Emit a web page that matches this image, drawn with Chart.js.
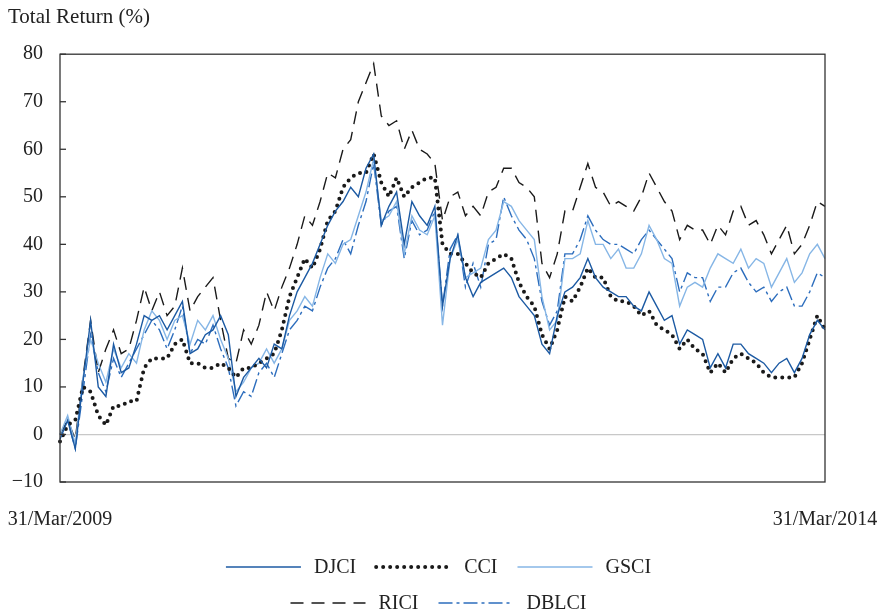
<!DOCTYPE html>
<html>
<head>
<meta charset="utf-8">
<title>Total Return (%)</title>
<script src="https://cdn.jsdelivr.net/npm/chart.js@4.4.1/dist/chart.umd.min.js"></script>
<style>
  html, body { margin: 0; padding: 0; background: #fff; }
</style>
</head>
<body>
<canvas id="myChart" width="895" height="615"></canvas>
<script>
// Tick labels for the time axis (first and last week)
var tickLabels = ['31/Mar/2009', '31/Mar/2014'];

// Total return (%) per index, roughly every 2.6 weeks
var djci = [
    -1, 3, -3, 11, 24, 10, 8, 19, 13, 14,
    19, 25, 24, 25, 22, 25, 28, 17, 18, 21,
    22, 25, 21, 8, 12, 14, 16, 14, 19, 18,
    25, 30, 33, 36, 40, 44, 47, 49, 52, 50,
    56, 59, 44, 48, 51, 40, 49, 46, 44, 48,
    27, 37, 42, 33, 29, 32, 33, 34, 35, 33,
    29, 27, 25, 19, 17, 25, 30, 31, 33, 37,
    33, 31, 30, 29, 29, 27, 26, 30, 27, 24,
    25, 19, 22, 21, 20, 14, 17, 14, 19, 19,
    17, 16, 15, 13, 15, 16, 13, 16, 21, 24, 22
];
var cci = [
    -1.5, 2, 3, 10, 9, 4, 2, 6, 6, 7,
    7, 14, 16, 16, 16, 19, 20, 15, 15, 14,
    14, 15, 14, 12, 14, 14, 15, 16, 17, 22,
    29, 33, 37, 35, 39, 45, 47, 52, 54, 55,
    55, 59, 53, 50, 54, 50, 52, 53, 54, 54,
    40, 38, 38, 36, 34, 33, 36, 37, 38, 37,
    32, 29, 27, 21, 18, 22, 29, 28, 31, 35,
    33, 33, 29, 28, 28, 27, 25, 26, 23, 22,
    21, 18, 20, 18, 17, 13, 15, 13, 16, 17,
    16, 15, 13, 12, 12, 12, 12, 15, 20, 25, 22
];
var gsci = [
    0, 4, -2, 12, 20, 15, 11, 18, 14, 17,
    15, 22, 26, 24, 20, 24, 25, 19, 24, 22,
    25, 20, 16, 9, 11, 14, 15, 18, 15, 18,
    24, 26, 29, 27, 33, 38, 36, 40, 41, 46,
    51, 58, 45, 46, 49, 38, 46, 43, 42, 46,
    23, 37, 41, 33, 34, 35, 41, 43, 49, 48,
    45, 43, 41, 29, 22, 24, 37, 37, 38, 45,
    40, 40, 37, 39, 35, 35, 38, 44, 41, 37,
    36, 27, 31, 32, 31, 35, 38, 37, 36, 39,
    35, 37, 36, 31, 34, 37, 32, 34, 38, 40, 37
];
var rici = [
    0, 3, -1, 12, 24, 13, 18, 22, 17, 18,
    24, 31, 26, 30, 25, 27, 35, 26, 29, 31,
    33, 24, 16, 15, 22, 19, 23, 30, 26, 31,
    35, 40, 46, 44, 49, 55, 54, 60, 62, 70,
    74, 78, 67, 65, 66, 60, 64, 60, 59, 57,
    45, 50, 51, 46, 48, 46, 51, 52, 56, 56,
    53, 52, 50, 36, 33, 38, 47, 47, 52, 57,
    52, 51, 48, 49, 48, 47, 50, 55, 52, 49,
    47, 41, 44, 43, 43, 40, 44, 42, 47, 48,
    44, 45, 42, 38, 41, 44, 38, 40, 44, 49, 48
];
var dblci = [
    0, 3, -3, 9, 21, 13, 9, 16, 12, 15,
    18, 21, 24, 22, 18, 22, 27, 17, 20, 19,
    23, 18, 14, 6, 9, 8, 13, 15, 12, 17,
    22, 24, 27, 26, 31, 35, 37, 41, 38, 44,
    49, 57, 44, 47, 48, 37, 45, 42, 43, 47,
    27, 39, 42, 31, 36, 31, 40, 41, 50, 46,
    43, 41, 37, 28, 23, 26, 38, 38, 41, 46,
    43, 41, 40, 40, 39, 38, 41, 43, 41, 39,
    37, 30, 34, 33, 33, 28, 31, 31, 34, 35,
    32, 30, 31, 28, 30, 31, 27, 27, 30, 34, 33
];

// One category per observation
var periods = djci.map(function(v, i) { return i; });

var serif = '"Liberation Serif", "Times New Roman", serif';
Chart.defaults.font.family = serif;
Chart.defaults.font.size = 20;
Chart.defaults.color = '#222';

// Frame round the plot and small inward ticks on the value axis
var frame = {
    id: 'frame',
    afterDraw: function(chart) {
        var ctx = chart.ctx;
        var area = chart.chartArea;
        var y = chart.scales.y;
        ctx.save();
        ctx.strokeStyle = '#333';
        ctx.lineWidth = 1.3;
        ctx.strokeRect(area.left, area.top, area.right - area.left, area.bottom - area.top);
        y.ticks.forEach(function(t) {
            var py = y.getPixelForValue(t.value);
            ctx.beginPath();
            ctx.moveTo(area.left, py);
            ctx.lineTo(area.left + 6, py);
            ctx.stroke();
        });
        ctx.restore();
    }
};

// Legend in two centred rows, line samples use the dataset styles
var legendRows = [[0, 1, 2], [3, 4]];
var legendLines = {
    id: 'legendLines',
    afterDraw: function(chart) {
        var ctx = chart.ctx;
        var area = chart.chartArea;
        var centre = (area.left + area.right) / 2 - 4;
        ctx.save();
        ctx.font = '20px ' + serif;
        ctx.textBaseline = 'middle';
        legendRows.forEach(function(row, r) {
            var y = area.bottom + 85 + r * 36;
            var widths = row.map(function(i) {
                return 75 + 13 + ctx.measureText(chart.data.datasets[i].label).width;
            });
            var total = widths.reduce(function(a, b) { return a + b; }, 0) + 20 * (row.length - 1);
            var x = centre - total / 2;
            row.forEach(function(i, k) {
                var ds = chart.data.datasets[i];
                ctx.beginPath();
                ctx.setLineDash(ds.borderDash || []);
                ctx.lineCap = ds.borderCapStyle || 'butt';
                ctx.lineWidth = ds.borderWidth;
                ctx.strokeStyle = ds.borderColor;
                ctx.moveTo(x, y);
                ctx.lineTo(x + 75, y);
                ctx.stroke();
                ctx.setLineDash([]);
                ctx.fillStyle = '#222';
                ctx.fillText(ds.label, x + 88, y + 1);
                x += widths[k] + 20;
            });
        });
        ctx.restore();
    }
};

var ctx = document.getElementById('myChart').getContext('2d');

var chartData = {
    labels: periods,
    datasets: [
        { label: 'DJCI', data: djci, borderColor: '#1c5aa3', borderWidth: 1.4 },
        { label: 'CCI', data: cci, borderColor: '#1a1a1a', borderWidth: 4,
          borderDash: [0, 7], borderCapStyle: 'round' },
        { label: 'GSCI', data: gsci, borderColor: '#86b6e6', borderWidth: 1.4 },
        { label: 'RICI', data: rici, borderColor: '#1a1a1a', borderWidth: 1.4,
          borderDash: [13, 8] },
        { label: 'DBLCI', data: dblci, borderColor: '#2c6dbd', borderWidth: 1.4,
          borderDash: [14, 4, 3, 4] }
    ]
};

var chartOptions = {
    responsive: false,
    animation: false,
    layout: { padding: { left: 8, right: 70, top: 0, bottom: 80 } },
    elements: { point: { radius: 0 }, line: { tension: 0 } },
    plugins: {
        legend: { display: false },
        tooltip: { enabled: false },
        title: {
            display: true,
            text: 'Total Return (%)',
            align: 'start',
            color: '#222',
            font: { size: 21, weight: 'normal', family: serif },
            padding: { top: 5, bottom: 24 }
        }
    },
    scales: {
        x: {
            type: 'category',
            offset: false,
            grid: { display: false },
            border: { display: false },
            ticks: {
                autoSkip: false,
                maxRotation: 0,
                minRotation: 0,
                padding: 18,
                callback: function(val, index) {
                    if (index === 0) return tickLabels[0];
                    if (index === periods.length - 1) return tickLabels[1];
                    return null;
                }
            },
            afterFit: function(scale) {
                // let the end labels hang past the plot edges
                scale.height = 53;
                scale.paddingLeft = 0;
                scale.paddingRight = 0;
            }
        },
        y: {
            min: -10,
            max: 80,
            border: { display: false },
            grid: {
                drawTicks: false,
                lineWidth: 1.3,
                color: function(c) { return c.tick && c.tick.value === 0 ? '#c8c8c8' : 'rgba(0,0,0,0)'; }
            },
            ticks: {
                stepSize: 10,
                padding: 17,
                callback: function(v) { return v < 0 ? '\u2212' + Math.abs(v) : String(v); }
            },
            afterFit: function(scale) { scale.width = 52; }
        }
    }
};

var myChart = new Chart(ctx, {
    type: 'line',
    data: chartData,
    options: chartOptions,
    plugins: [frame, legendLines]
});
</script>
</body>
</html>
